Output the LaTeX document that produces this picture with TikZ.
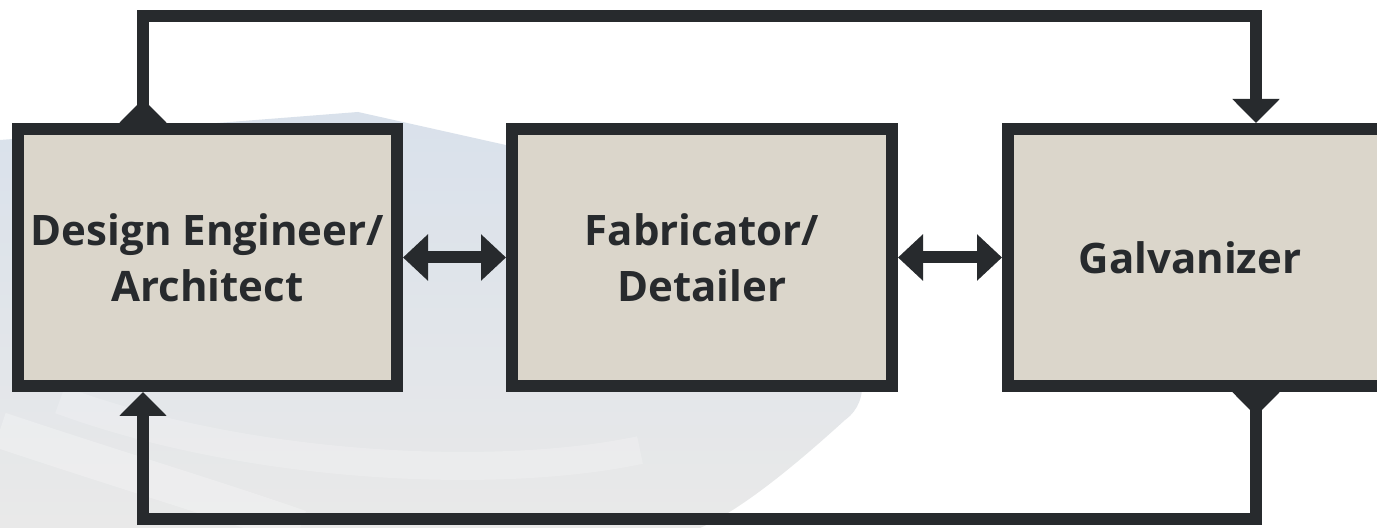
\documentclass[tikz,border=0pt]{standalone}
\usepackage{fontspec}
\setmainfont{Open Sans}
\newfontfamily\boxfont{Open Sans}
\usetikzlibrary{arrows.meta}
\definecolor{ink}{HTML}{272A2D}
\definecolor{boxfill}{HTML}{DBD6CB}
\definecolor{wmblue}{HTML}{D9E1EB}
\definecolor{wmgrey}{HTML}{E9E9E9}
\begin{document}
\begin{tikzpicture}[x=0.5pt,y=-0.5pt,
  stagebox/.style={draw=ink, fill=boxfill, line width=6pt, inner sep=0pt,
    minimum height=128.5pt, align=center, text=ink,
    font=\boxfont\bfseries\fontsize{21}{28}\selectfont},
  link/.style={draw=ink, line width=6pt,
    {Triangle[width=22.5pt,length=12.5pt]}-{Triangle[width=22.5pt,length=12.5pt]}},
  loopline/.style={draw=ink, line width=6pt,
    {Triangle[reversed,width=23pt,length=12pt]}-{Triangle[width=23pt,length=12pt]}}]
\path[use as bounding box] (0,0) rectangle (1377,528);
\clip (0,0) rectangle (1377,528);
\fill[white] (0,0) rectangle (1377,528);
% faint watermark
\shade[top color=wmblue, bottom color=wmgrey]
  (0,140) -- (358,112) -- (640,175)
  .. controls (820,260) and (900,380) .. (845,420)
  .. controls (790,470) and (740,510) .. (700,528) -- (0,528) -- cycle;
\draw[white, opacity=0.25, line width=18pt] (0,430) .. controls (120,470) and (220,500) .. (300,528);
\draw[white, opacity=0.2, line width=14pt] (60,400) .. controls (250,470) and (500,480) .. (640,450);
% boxes
\node[stagebox, minimum width=189.5pt] (e) at (207.5,257.5) {Design Engineer/\\Architect};
\node[stagebox, minimum width=190pt] (f) at (702,257.5) {Fabricator/\\Detailer};
\node[stagebox, minimum width=192pt] (g) at (1200,257.5) {Galvanizer\hspace*{10pt}};
% loop corners
\coordinate (tl) at (143,16.5);
\coordinate (tr) at (1256,16.5);
\coordinate (bl) at (143,519);
\coordinate (br) at (1256,519);
% connectors
\draw[link] (e) -- (f);
\draw[link] (f) -- (g);
\draw[loopline] (e.north -| tl) -- (tl) -- (tr) -- (g.north -| tr);
\draw[loopline] (g.south -| br) -- (br) -- (bl) -- (e.south -| bl);
\end{tikzpicture}
\end{document}
